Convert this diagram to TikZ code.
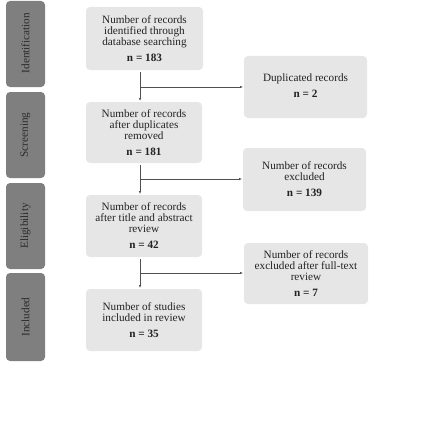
\documentclass[tikz,border=0pt]{standalone}
\usepackage{fontspec}
\setmainfont{Liberation Serif}
\usetikzlibrary{arrows.meta}
\definecolor{boxfill}{HTML}{E6E6E6}
\definecolor{barfill}{HTML}{7F7F7F}
\definecolor{bartext}{HTML}{2A2A2A}
\definecolor{linecol}{HTML}{505050}
\definecolor{txt}{HTML}{222222}
\newcommand{\boxtext}{\fontsize{11.2}{11}\selectfont}
\begin{document}
\begin{tikzpicture}[
  box/.style={fill=boxfill,draw=none,rounded corners=4pt,inner sep=0pt,outer sep=0pt},
  lbl/.style={align=center,inner sep=0pt,text=txt,font=\boxtext},
  bar/.style={fill=barfill,draw=none,rounded corners=4pt,inner sep=0pt,outer sep=0pt},
  barlabel/.style={rotate=90,font=\fontsize{11.2}{12}\selectfont,text=bartext,inner sep=0pt},
  conn/.style={draw=linecol,line width=0.6pt},
  arr/.style={conn,-{Latex[length=3pt,width=2.4pt]}}]
\useasboundingbox (0pt,0pt) rectangle (437pt,-444pt);
% side bars
\path[bar] (6pt,-1pt) rectangle (45pt,-87pt);
\path[bar] (6pt,-92pt) rectangle (45pt,-178pt);
\path[bar] (6pt,-183pt) rectangle (45pt,-269pt);
\path[bar] (6pt,-273pt) rectangle (45pt,-361pt);
\node[barlabel] (l1) at (25.5pt,-43pt) {Identification};
\node[barlabel] (l2) at (25.5pt,-135pt) {Screening};
\node[barlabel] (l3) at (25.5pt,-226pt) {Eligibility};
\node[barlabel] (l4) at (25.5pt,-317pt) {Included};
% main boxes
\path[box] (86pt,-7pt) rectangle (203pt,-70pt);
\path[box] (86pt,-102pt) rectangle (202pt,-163pt);
\path[box] (86pt,-195pt) rectangle (202pt,-257pt);
\path[box] (86pt,-289pt) rectangle (202pt,-351pt);
\node[lbl] (m1) at (144.5pt,-38.5pt)
  {Number of records\\identified through\\database searching\\[5pt]\textbf{n = 183}};
\node[lbl] (m2) at (144pt,-132.5pt)
  {Number of records\\after duplicates\\removed\\[5pt]\textbf{n = 181}};
\node[lbl] (m3) at (144pt,-226pt)
  {Number of records\\after title and abstract\\review\\[5pt]\textbf{n = 42}};
\node[lbl] (m4) at (144pt,-320pt)
  {Number of studies\\included in review\\[5pt]\textbf{n = 35}};
% right boxes
\path[box] (244pt,-56pt) rectangle (367pt,-118pt);
\path[box] (243pt,-148pt) rectangle (366pt,-211pt);
\path[box] (244pt,-243pt) rectangle (368pt,-304pt);
\node[lbl] (r1) at (305.5pt,-86pt)
  {Duplicated records\\[5pt]\textbf{n = 2}};
\node[lbl] (r2) at (304.5pt,-179.5pt)
  {Number of records\\excluded\\[5pt]\textbf{n = 139}};
\node[lbl] (r3) at (306pt,-273.5pt)
  {Number of records\\excluded after full-text\\review\\[5pt]\textbf{n = 7}};
% connectors
\coordinate (t1) at (140pt,-72pt);
\coordinate (h1) at (140pt,-101pt);
\coordinate (t2) at (140pt,-165pt);
\coordinate (h2) at (140pt,-194pt);
\coordinate (t3) at (140pt,-259pt);
\coordinate (h3) at (140pt,-288pt);
\coordinate (j1) at (140pt,-87pt);
\coordinate (j2) at (140pt,-179pt);
\coordinate (j3) at (140pt,-273pt);
\coordinate (e1) at (243pt,-87pt);
\coordinate (e2) at (242pt,-179pt);
\coordinate (e3) at (243pt,-273pt);
\draw[arr] (t1) -- (h1);
\draw[arr] (j1) -- (e1);
\draw[arr] (t2) -- (h2);
\draw[arr] (j2) -- (e2);
\draw[arr] (t3) -- (h3);
\draw[arr] (j3) -- (e3);
\end{tikzpicture}
\end{document}
